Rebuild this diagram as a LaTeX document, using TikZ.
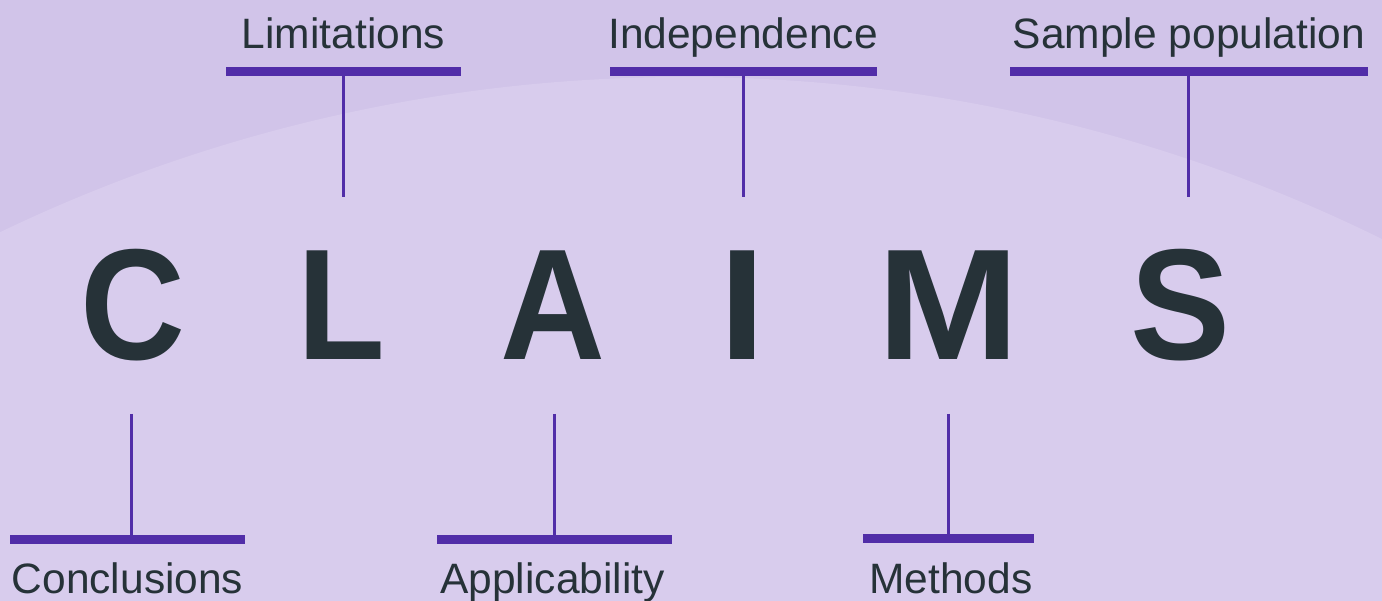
\documentclass[tikz,border=0pt]{standalone}
\usepackage{fontspec}
\setmainfont{Liberation Sans}
\usepackage{graphicx}
\definecolor{bgdark}{HTML}{D1C4E9}
\definecolor{bglight}{HTML}{D8CCED}
\definecolor{barcol}{HTML}{512DA8}
\definecolor{inkcol}{HTML}{263238}
\tikzset{
  labeltext/.style={anchor=base, inner sep=0pt, text=inkcol, font=\fontsize{42.5}{50}\selectfont},
  bigletter/.style={anchor=base, inner sep=0pt, text=inkcol, font=\fontsize{158}{170}\selectfont\bfseries},
  barbox/.style={fill=barcol, inner sep=0pt, minimum height=9.3pt, draw=none},
  stem/.style={draw=barcol, line width=3pt}
}
\begin{document}
\begin{tikzpicture}[x=1pt,y=-1pt]
\useasboundingbox (0,0) rectangle (1382,601);
\fill[bgdark] (0,0) rectangle (1382,601);
\begin{scope}
  \clip (0,0) rectangle (1382,601);
  \fill[bglight] (684,1658) circle (1581pt);
\end{scope}

% big letters
\node[bigletter] (C) at (133,360) {\scalebox{0.92}[1]{C}};
\node[bigletter] (L) at (341,360) {\scalebox{0.91}[1]{L}};
\node[bigletter] (A) at (552.5,360) {\scalebox{0.92}[1]{A}};
\node[bigletter] (I) at (742.7,360) {\scalebox{1.05}[1]{I}};
\node[bigletter] (M) at (948.5,360) {\scalebox{1.08}[1]{M}};
\node[bigletter] (S) at (1180.5,360) {\scalebox{0.95}[1]{S}};

% top bars
\node[barbox, minimum width=235pt] (barL) at (343.5,71.5) {};
\node[barbox, minimum width=267pt] (barI) at (743.5,71.5) {};
\node[barbox, minimum width=358pt] (barS) at (1189,71.5) {};
\coordinate (endL) at (343,197);
\coordinate (endI) at (743,197);
\coordinate (endS) at (1188,197);
\draw[stem] (barL.south -| endL) -- (endL);
\draw[stem] (barI.south -| endI) -- (endI);
\draw[stem] (barS.south -| endS) -- (endS);

% bottom bars
\node[barbox, minimum width=235pt] (barC) at (127.5,539.5) {};
\node[barbox, minimum width=235pt] (barA) at (554.5,539.5) {};
\node[barbox, minimum width=171pt] (barM) at (948.5,538.5) {};
\coordinate (endC) at (131,414);
\coordinate (endA) at (554.3,414);
\coordinate (endM) at (948.3,414);
\draw[stem] (endC) -- (barC.north -| endC);
\draw[stem] (endA) -- (barA.north -| endA);
\draw[stem] (endM) -- (barM.north -| endM);

% labels
\node[labeltext] (tLim) at (343.5,48.3) {Limitations};
\node[labeltext] (tInd) at (743,48.3) {Independence};
\node[labeltext] (tSam) at (1189,48.3) {Sample population};
\node[labeltext] (tCon) at (127.5,593) {Conclusions};
\node[labeltext] (tApp) at (552.5,593) {Applicability};
\node[labeltext] (tMet) at (951,593) {Methods};
\end{tikzpicture}
\end{document}
